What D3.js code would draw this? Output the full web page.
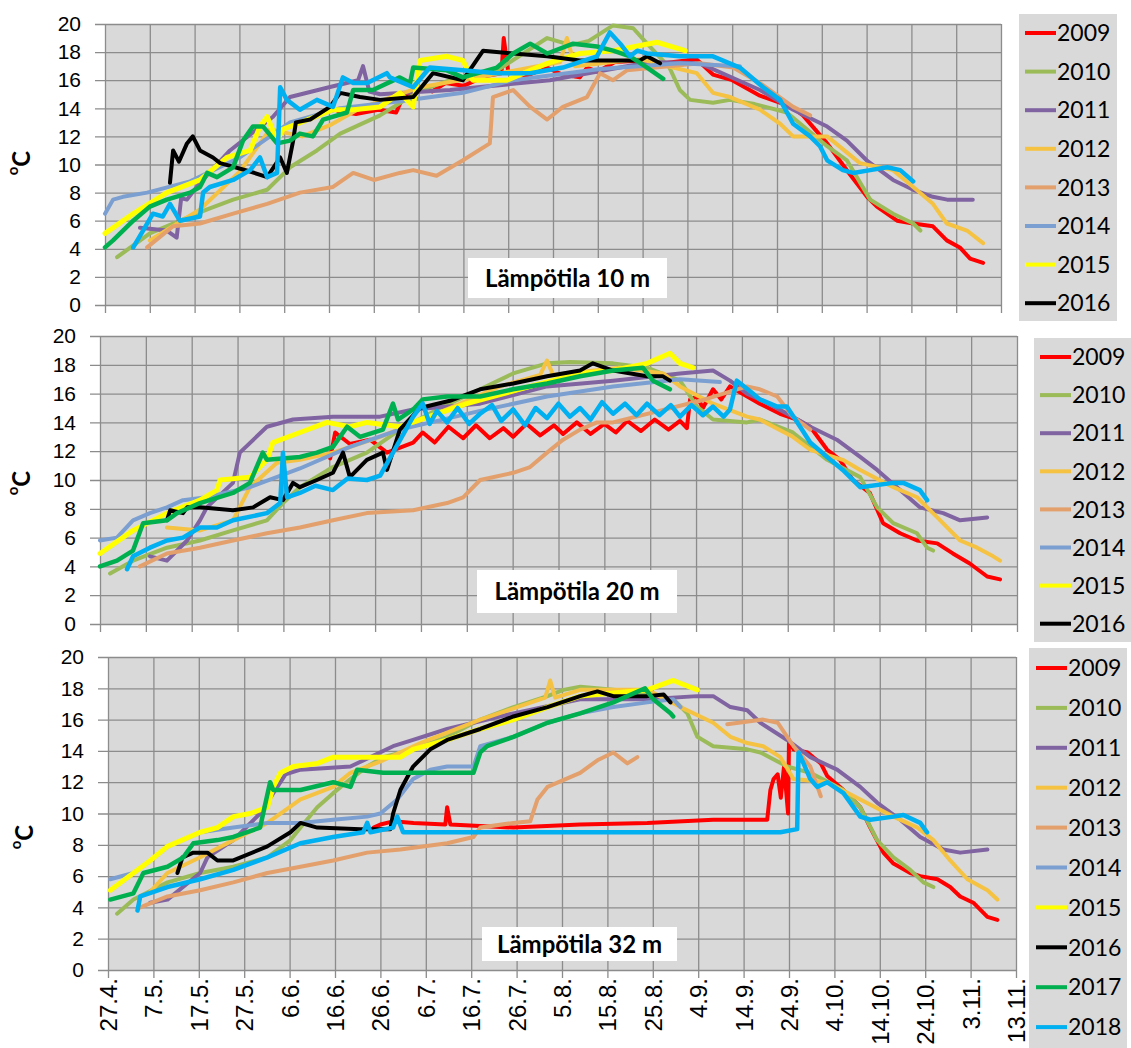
<!DOCTYPE html>
<html>
<head>
<meta charset="utf-8">
<script src="https://cdn.jsdelivr.net/npm/d3@7"></script>
<style>
body { margin: 0; background: #fff; }
svg { display: block; font-family: Lato, "Open Sans", sans-serif; }
</style>
</head>
<body>
<svg id="chart" width="1131" height="1048"></svg>
<script>
// years, colours and axis labels
var years = [2009, 2010, 2011, 2012, 2013, 2014, 2015, 2016, 2017, 2018];
var yearColors = ["#ff0000", "#9bbb59", "#8064a2", "#f5c242", "#e3a06c", "#7b9fd0", "#ffff00", "#000000", "#00b050", "#00b0f0"];
var dayTicks = [0, 10, 20, 30, 40, 50, 60, 70, 80, 90, 100, 110, 120, 130, 140, 150, 160, 170, 180, 190, 200];
var tickLabels = ["27.4.", "7.5.", "17.5.", "27.5.", "6.6.", "16.6.", "26.6.", "6.7.", "16.7.", "26.7.", "5.8.", "15.8.", "25.8.", "4.9.", "14.9.", "24.9.", "4.10.", "14.10.", "24.10.", "3.11.", "13.11."];
var tempTicks = [0, 2, 4, 6, 8, 10, 12, 14, 16, 18, 20];

// [days after 27.4., degrees C] -- 10 m
var m10_2009 = [[52,13.8],[56,13.6],[61,13.9],[65,13.7],[66.5,14.8],[70,15.5],[73,15.2],[76,15.8],[80,15.6],[85,16.3],[88.5,16.5],[89,19],[90,16.6],[94,16.3],[98.7,16.9],[102,16.4],[106,16.2],[107.6,16.9],[110,16.6],[113.8,17.3],[119.6,17.4],[124.7,17.2],[132,17.5],[135.7,16.4],[140,16.0],[146.2,14.9],[153.3,14.1],[155.8,13.5],[161.2,11.5],[165.8,9.5],[170.1,7.7],[172.3,7.0],[176.8,6.0],[180.4,5.8],[184.8,5.6],[187.9,4.6],[190.8,4.1],[193.1,3.3],[196,3.0]];
var m10_2010 = [[2.7,3.4],[10,5.1],[22.8,6.8],[28.6,7.5],[36.2,8.2],[41.3,9.8],[47.3,11.0],[52.5,12.2],[61.4,13.5],[70,15.2],[77,16],[88,16.8],[98.7,19],[104,18.5],[108,18.8],[113.4,19.9],[117.9,19.7],[121,18.6],[126,16.9],[128.3,15.3],[130.6,14.6],[135.7,14.4],[139.5,14.6],[145,14.3],[152.2,13.7],[161.2,11.3],[165.6,10.3],[170.8,7.5],[175.9,6.5],[180.4,5.8],[182,5.3]];
var m10_2011 = [[7.8,5.5],[13.8,5.3],[16,4.8],[17,7.6],[18.3,7.5],[21.2,8.7],[27.9,11.0],[37.5,13.4],[41.3,14.8],[50,15.5],[56.5,16.0],[57.6,17],[59,15.2],[61.4,15],[77,15.3],[99.3,16],[121.7,17.3],[132.8,17.2],[146.2,15.3],[153.6,13.9],[161.2,12.7],[165.6,11.7],[170,10.3],[175.9,8.9],[180.4,8.2],[184.8,7.7],[188,7.5],[193.7,7.5]];
var m10_2012 = [[10,4.6],[21.2,6.8],[30.1,9.5],[36.8,12.5],[44,12.0],[50.2,12.8],[56.9,14],[70.3,15.5],[88.2,16.5],[101.6,17.3],[103.1,19],[104.9,17],[119.4,17.5],[126.8,16.9],[132.1,16.5],[135.7,15.1],[139.5,14.8],[146.2,13.9],[150.7,12.9],[153.6,12],[161.2,12],[168.5,10.1],[175.9,9.6],[180.4,8.4],[184.8,7.2],[187.9,5.8],[192.4,5.3],[196,4.4]];
var m10_2013 = [[9.4,4.1],[15.2,5.6],[21.2,5.8],[28.6,6.5],[36.2,7.2],[43.5,8.0],[50.9,8.4],[55.4,9.4],[60,8.9],[65.8,9.4],[68.8,9.6],[74,9.2],[79.9,10.3],[85.9,11.5],[86.6,14.8],[91.1,15.3],[94.9,14.1],[98.7,13.2],[102.2,14.1],[107.6,14.8],[110.5,16.5],[113.4,16.0],[116.5,16.7],[132.8,17.2],[140.2,16.9],[146.2,15.8],[153.6,14.1],[157.4,13.5]];
var m10_2014 = [[0,6.5],[1.8,7.5],[4,7.7],[9.4,8],[19,8.8],[30.1,10.5],[41.3,13],[52.5,14],[65.8,14.5],[79.9,15.1],[91.1,16],[110.5,16.8],[128.3,17.2],[141.7,17]];
var m10_2015 = [[0,5.1],[6.3,6.5],[13.8,8.0],[21.2,8.9],[27.2,10.5],[32.4,11.0],[34.6,12.7],[36.2,13.4],[38.4,11.7],[39.7,12.5],[50.9,13.9],[55.4,13.9],[61.4,14.1],[65.8,15.1],[68.8,14.1],[70.3,17.4],[76.3,17.7],[79.9,17.4],[82.1,16],[89.7,16],[98.7,17.2],[106,17.9],[113.4,18.1],[123.2,18.7],[129.5,18.1]];
var m10_2016 = [[14.5,8.7],[15.2,11.0],[16.5,10.2],[18.3,11.5],[19.6,12.0],[21.2,11.0],[24.1,10.5],[25.7,10.1],[32.4,9.5],[36.2,9.1],[39.1,10.5],[40.6,9.4],[42,11.7],[42.6,13.0],[45.8,13.2],[50.2,14.1],[52.5,15.1],[56.9,14.8],[61.4,14.6],[68.8,14.8],[73.2,16.5],[79.9,16.0],[84.4,18.1],[91.1,17.9],[98.7,17.7],[106,17.4],[113.4,17.4],[119.4,17.4],[121,17.7],[123.9,17.2]];
var m10_2017 = [[0,4.1],[1.8,4.6],[6.3,6.0],[10,7.0],[13.8,7.5],[19,8.0],[21.2,8.4],[22.8,9.4],[25,9.1],[28.6,9.8],[30.8,11.7],[33,12.7],[35.3,12.7],[38.4,11.5],[41.3,11.7],[43.5,12.2],[46.4,12.0],[48.7,13.2],[54,13.7],[55.4,15.3],[59.8,15.3],[65.8,16.2],[68.1,15.8],[68.8,16.9],[76.3,16.7],[79.9,16.2],[87.5,16.9],[91.1,17.9],[94.9,18.6],[98.7,17.9],[104.5,18.6],[109.8,18.4],[113.4,18.1],[117.2,17.7],[121,16.9],[124.6,16.1]];
var m10_2018 = [[6.3,4.1],[8.5,5.3],[10.7,6.5],[12.9,6.3],[14.5,7.2],[16.7,6.0],[21.2,6.3],[21.9,8.0],[23.4,8.4],[28.6,8.9],[32.4,9.6],[34.6,10.5],[36.2,9.1],[38.4,9.4],[39.1,15.5],[40.6,14.6],[43.5,13.9],[47.3,14.6],[50.9,14.1],[53.1,16.2],[55.4,15.8],[58.5,15.8],[62.9,16.5],[63.6,16.2],[68.8,15.5],[72.5,16.9],[79.9,16.7],[87.5,16.5],[94.9,16.5],[102.2,16.9],[109.8,17.7],[112.7,19.4],[115,18.6],[117.2,17.7],[118.8,18.1],[121,17.9],[128.3,17.7],[135.7,17.7],[141.7,16.9],[146.9,15.5],[150.7,14.6],[153.6,12.9],[157.4,12.0],[159.6,11.3],[161.2,10.3],[164.7,9.6],[167,9.4],[170.8,9.6],[174.6,9.8],[177.5,9.6],[180.4,8.8]];

// 20 m
var m20_2009 = [[50.2,11.5],[51.3,13.3],[54.5,12.5],[58.9,12.8],[62.6,11.9],[68.3,12.6],[70.4,13.3],[73,12.6],[76,13.7],[79.2,12.9],[82,13.8],[85,12.9],[88,13.6],[90.1,13.0],[93,13.9],[96,13.1],[99,13.8],[101,13.2],[104,14.0],[107,13.2],[110,13.9],[112.5,13.3],[115,14.1],[118,13.4],[121,14.2],[124,13.5],[126.5,14.1],[128,13.6],[128.7,15.6],[130.2,15.8],[131.5,15.0],[133.7,16.3],[135.5,15.6],[137.4,16.5],[143.9,15.3],[148.3,14.6],[152,14.2],[154.9,13.7],[158.6,12.1],[161.4,11.4],[164.2,10],[167.9,9.1],[170.8,7.0],[174.5,6.3],[178.2,5.8],[182.6,5.6],[186,4.9],[189.7,4.2],[193.5,3.3],[196.3,3.1]];
var m20_2010 = [[2.2,3.5],[7.2,4.4],[14.6,5.3],[21.8,5.8],[29,6.5],[36.4,7.2],[39.9,8.4],[43.6,9.5],[50.8,10.9],[58.2,11.9],[65.4,13.5],[74.2,15],[82.9,16.3],[90.1,17.4],[97.5,18.1],[102.5,18.2],[111.9,18.1],[119.3,17.8],[126.5,16.9],[130.2,15.1],[133.7,14.2],[141.1,14.0],[143.9,14.2],[151.1,13.3],[158.6,11.4],[165.8,10.2],[169.5,8.1],[173,7.0],[178.2,6.3],[180.4,5.3],[181.7,5.1]];
var m20_2011 = [[10.9,4.7],[14.6,4.4],[19,5.8],[21.8,7.2],[23.3,8.1],[29,9.8],[30.5,11.9],[36.4,13.7],[42.1,14.2],[50.8,14.4],[61.1,14.4],[68.3,14.9],[82.9,15.3],[97.5,16.5],[111.9,16.9],[126.5,17.4],[133.7,17.6],[137.4,16.9],[141.1,16.0],[143.9,15.6],[151.1,14.4],[154.9,13.7],[160.7,12.8],[165.8,11.6],[169.5,10.7],[174.5,9.3],[178.8,8.1],[183.9,7.7],[187.6,7.2],[193.5,7.4]];
var m20_2012 = [[14.6,6.7],[21.8,6.5],[29,7.2],[32.7,9.5],[38.6,11.2],[43.6,11.4],[50.8,11.9],[61.1,13],[76.3,15],[87.2,16.5],[96,17.3],[97.5,18.3],[98.8,17.3],[113.4,17.8],[122.8,17.4],[126.5,16.5],[133.7,15.3],[141.1,14.4],[143.9,14.2],[151.1,13.0],[154.9,12.1],[162,11.4],[165.8,10.7],[173,9.5],[178.2,8.8],[182.6,7.4],[187.6,5.8],[191.3,5.3],[194.8,4.7],[196.3,4.4]];
var m20_2013 = [[8.7,4.0],[14.6,4.9],[21.8,5.3],[29,5.8],[36.4,6.3],[43.6,6.7],[50.8,7.2],[58.2,7.7],[68.3,7.9],[75.7,8.4],[79.2,8.8],[82.9,10.0],[90.1,10.5],[93.8,10.9],[97.5,11.9],[101,12.8],[104.7,13.5],[108.4,14.0],[111.9,14.0],[130.9,15.5],[141.1,16.5],[143.9,16.3],[147.7,15.8],[151.1,14.4],[154.9,13.5]];
var m20_2014 = [[0,5.8],[3.7,6.0],[7.2,7.2],[10.9,7.7],[14.6,8.1],[18.1,8.6],[23.3,8.8],[32.7,9.5],[43.6,10.8],[54.5,12.3],[65.4,13.5],[82.9,14.8],[97.5,15.8],[111.9,16.5],[126.5,17.0],[135.2,16.8]];
var m20_2015 = [[0,4.9],[7.2,6.5],[14.6,7.7],[21.8,8.6],[25.5,9.3],[26.2,10.0],[32.7,10.2],[36.4,11.4],[37.7,12.6],[43.6,13.3],[49.5,14.0],[54.5,13.7],[58.2,14.0],[65.4,13.7],[80,15.3],[93.8,16.5],[104.7,17.4],[111.9,17.6],[119.3,18.1],[124.3,18.8],[126.5,18.1],[129.3,17.8]];
var m20_2016 = [[14.6,7.2],[15.3,7.9],[18.1,7.7],[19,8.1],[21.8,8.1],[29,7.9],[33.4,8.1],[37.1,8.8],[39.9,8.6],[42.1,9.8],[43.6,9.5],[47.3,10.0],[50.8,10.5],[53,11.9],[54.5,10.2],[58.2,11.4],[61.7,11.9],[62.6,10.7],[65.4,13.5],[69.8,15.0],[76.3,15.5],[82.9,16.3],[90.1,16.7],[97.5,17.2],[104.7,17.6],[107.5,18.1],[111.9,17.6],[119.3,17.2],[122.8,17.2],[124.3,16.9]];
var m20_2017 = [[0,4.0],[3.7,4.4],[7.2,5.1],[9.4,7.0],[14.6,7.2],[16.8,7.7],[21.8,8.4],[29,9.1],[32.7,9.8],[35.5,11.9],[36.4,11.4],[43.6,11.6],[47.3,11.9],[50.8,12.3],[53.9,13.7],[56.7,13.0],[61.7,13.5],[63.9,15.3],[65,14.2],[68.3,14.9],[70.4,15.6],[75.7,15.8],[82.9,15.8],[90.1,16.3],[97.5,16.7],[104.7,17.2],[111.9,17.6],[118.4,17.8],[120.6,16.9],[124.3,16.3]];
var m20_2018 = [[5.9,3.8],[7.2,4.7],[10.9,5.3],[14.6,5.8],[18.1,6.0],[21.8,6.7],[25.5,6.7],[29,7.2],[36.4,7.7],[39.3,8.4],[39.9,11.9],[40.8,8.8],[43.6,9.1],[47,9.6],[50.8,9.3],[54,10.1],[58.2,10.0],[61.1,10.3],[64.6,12.3],[68.3,14.4],[70.4,15.3],[71.9,13.9],[73.5,14.8],[75.7,14.0],[78,15.0],[80.5,13.9],[82.9,14.6],[85.5,15.2],[87.5,14.1],[90.1,14.9],[92.7,13.8],[95,15.0],[97.5,14.3],[100,15.3],[102.5,14.4],[104.7,15.0],[107,14.2],[109.5,15.4],[111.9,14.6],[114.5,15.3],[117,14.5],[119.3,15.3],[122,14.5],[124.5,15.2],[126.5,14.4],[129,15.2],[131.5,14.5],[133.7,15.1],[136,14.4],[137.4,14.9],[138.9,16.9],[142.4,16.0],[143.9,15.6],[147.7,15.1],[149.8,15.1],[152.7,13.7],[154.9,12.6],[158.6,11.6],[162,10.7],[165.8,9.5],[173,9.8],[175.2,9.8],[178.8,9.3],[180.4,8.6]];

// 32 m
var m32_2009 = [[58.5,9.1],[60,9.3],[62.8,9.5],[67.3,9.4],[74.3,9.3],[74.7,10.4],[75.4,9.3],[89.3,9.1],[104,9.3],[118.8,9.4],[133.3,9.6],[143.7,9.6],[145.2,9.6],[145.9,11.5],[146.6,12.2],[147.5,12.5],[148.2,11.0],[148.9,13.0],[149.8,10.0],[150,14.7],[151,14.1],[154.1,13.9],[157,13.2],[158.4,12.4],[162,11.5],[165.7,10.4],[167.9,9.1],[170.8,7.5],[173,6.8],[176.7,6.2],[178.9,6.0],[182.7,5.8],[185.5,5.3],[187.7,4.7],[190.6,4.3],[193.7,3.4],[195.9,3.2]];
var m32_2010 = [[2,3.6],[5.6,4.5],[13.1,5.6],[20.3,6.2],[27.6,6.6],[35.1,7.2],[40.2,8.3],[42.4,9.1],[46.1,10.4],[49.6,11.3],[53.4,12.2],[57.1,13.0],[60.6,13.6],[67.2,14.1],[74.7,14.9],[82,16.0],[89.3,16.8],[96.8,17.5],[100.3,17.9],[104,18.1],[111.3,17.9],[118.8,17.7],[124.5,17.3],[127.6,16.4],[129.8,14.9],[133.3,14.3],[140.8,14.1],[143.7,13.9],[149.6,13.0],[154.7,12.6],[162,11.5],[165.7,10.4],[169.4,8.3],[173,7.2],[176.7,6.4],[179.6,5.6],[181.8,5.3]];
var m32_2011 = [[9.3,4.3],[13.1,4.5],[20.3,6.2],[21.9,7.2],[27.6,8.3],[33.5,10],[39.1,12.5],[42.4,12.8],[53.4,13.0],[62.8,14.3],[67.2,14.7],[74.7,15.4],[89.3,16.4],[104,17.3],[118.8,17.3],[129.8,17.5],[133.3,17.5],[137.1,16.8],[140.8,16.6],[143.7,15.8],[149.6,14.7],[154.7,13.6],[160.6,12.8],[165.7,11.7],[169.4,10.7],[174.5,9.6],[178.9,8.5],[184,7.7],[187.7,7.5],[193.7,7.7]];
var m32_2012 = [[9.3,5.0],[13.1,6.2],[20.3,7.2],[27.6,8.3],[35.1,9.4],[42.4,10.9],[49.6,11.7],[53.4,12.6],[60.6,13.4],[68.8,14.5],[82,16.0],[96.3,17.4],[97.4,18.5],[98.5,17.4],[104,17.9],[118.8,17.9],[126.1,16.8],[133.3,15.8],[137.1,14.9],[140.8,14.5],[144.3,14.3],[148.1,13.6],[151,12.2],[158.4,12.0],[165.7,10.9],[173,9.8],[178.3,9.1],[181.8,8.3],[185.5,7.0],[189.3,5.8],[193.7,5.1],[195.9,4.5]];
var m32_2013 = [[7.1,4.0],[13.1,4.7],[20.3,5.1],[27.6,5.6],[35.1,6.2],[42.4,6.6],[49.6,7.0],[57.1,7.5],[64.4,7.7],[74.7,8.1],[80.5,8.5],[82,9.1],[89.3,9.4],[93,9.5],[94.6,10.9],[96.8,11.7],[104,12.6],[107.8,13.4],[111.3,13.9],[114.4,13.2],[116.6,13.6],null,[136.4,15.7],[144.3,16.0],[147.5,15.8],[149.6,14.9],[151,14.3],[154.7,13.0],[157,11.1]];
var m32_2014 = [[0.5,5.8],[5.6,6.2],[9.3,7.0],[13.1,7.9],[20.3,8.8],[27.6,9.1],[35.1,9.4],[42.4,9.4],[49.6,9.6],[57.1,9.8],[60,10.0],[63.7,10.9],[67.2,12.2],[71,12.8],[74.7,13.0],[80.5,13.0],[82,14.3],[89.3,14.9],[96.8,15.8],[104,16.4],[111.3,16.8],[118.8,17.1],[124.5,17.3],[126.1,16.8]];
var m32_2015 = [[0.5,5.1],[5.6,6.2],[9.3,7.0],[13.1,7.9],[20.3,8.8],[24.1,9.1],[27.6,9.8],[31.3,10.0],[35.1,10.4],[36.4,11.7],[38,12.6],[40.8,13.0],[46.1,13.2],[49.6,13.6],[64.4,13.6],[67.2,14.1],[74.7,14.7],[82,15.4],[89.3,16.0],[96.8,16.8],[104,17.5],[111.3,17.7],[118.8,17.9],[124.5,18.5],[129.8,17.9]];
var m32_2016 = [[15.3,6.2],[16.4,7.2],[18.8,7.5],[21.9,7.5],[24.1,7.0],[27.6,7.0],[35.1,7.9],[40.2,8.8],[42.4,9.4],[46.1,9.1],[55.6,9.0],[62.2,9.0],[62.8,10.0],[64.4,11.5],[67.2,13.0],[71,14.1],[74.7,14.7],[82,15.4],[89.3,16.2],[96.8,16.8],[104,17.5],[107.8,17.8],[111.3,17.5],[118.8,17.5],[122.4,17.6],[123.9,17.1]];
var m32_2017 = [[0.5,4.5],[5.6,4.9],[7.8,6.2],[13.1,6.6],[16.6,7.2],[18.8,8.1],[24.1,8.3],[27.6,8.5],[33.5,9.1],[35.7,12.0],[36.4,11.5],[42.4,11.5],[49.6,12.0],[53.4,11.7],[54.9,12.8],[60.6,12.6],[80.5,12.6],[82,13.9],[83.5,14.3],[89.3,14.9],[96.8,15.8],[104,16.4],[111.3,17.1],[118.3,18.0],[120.1,17.3],[123.9,16.4],[124.5,16.2]];
var m32_2018 = [[6.5,3.8],[7.1,4.7],[13.1,5.3],[20.3,5.8],[27.6,6.4],[35.1,7.2],[42.4,8.1],[49.6,8.5],[56.2,8.8],[57.1,9.4],[57.8,8.8],[62.8,9.1],[63.7,9.8],[65,8.8],[104,8.8],[148.1,8.8],[151.8,9.0],[152.1,13.9],[153.2,13.2],[154.7,12.2],[156.2,11.7],[158.4,12.0],[162,11.3],[165.7,9.8],[167.9,9.6],[173,9.8],[175.2,9.9],[178.9,9.4],[180.4,8.8]];

// one panel per depth
var panels = [
    {label: "Lämpötila 10 m", legendCount: 8, series: [m10_2009, m10_2010, m10_2011, m10_2012, m10_2013, m10_2014, m10_2015, m10_2016, m10_2017, m10_2018]},
    {label: "Lämpötila 20 m", legendCount: 8, series: [m20_2009, m20_2010, m20_2011, m20_2012, m20_2013, m20_2014, m20_2015, m20_2016, m20_2017, m20_2018]},
    {label: "Lämpötila 32 m", legendCount: 10, series: [m32_2009, m32_2010, m32_2011, m32_2012, m32_2013, m32_2014, m32_2015, m32_2016, m32_2017, m32_2018]}
];

// panel placement on the page
var layout = [
    {left: 105, right: 1001, top: 24, bottom: 305, leg: {x: 1019, y: 14, w: 98, h: 307, lx: 1025, y0: 33, dy: 38.6}, lab: {x: 468, y: 258, w: 199, h: 40}, unit: {x: 25, y: 163}, xLabels: false},
    {left: 100, right: 1017, top: 336, bottom: 624, leg: {x: 1034, y: 338, w: 97, h: 304, lx: 1040, y0: 357, dy: 38.1}, lab: {x: 477, y: 570, w: 200, h: 43}, unit: {x: 25, y: 483}, xLabels: false},
    {left: 108, right: 1016, top: 657, bottom: 970, leg: {x: 1029, y: 648, w: 98, h: 410, lx: 1036, y0: 668, dy: 39.9}, lab: {x: 482, y: 927, w: 195, h: 34}, unit: {x: 28, y: 837}, xLabels: true}
];

var lineWidths = [4, 4, 4, 4, 4, 4, 5, 4, 4.5, 4.5];
var gridColor = "#8c8c8c";

var svg = d3.select("#chart");

panels.forEach(function(panel, p) {
    var L = layout[p];
    var g = svg.append("g");

    var x = d3.scaleLinear().domain([0, 200]).range([L.left, L.right]);
    var y = d3.scaleLinear().domain([0, 20]).range([L.bottom, L.top]);

    //plot background
    g.append("rect")
        .attr("x", L.left).attr("y", L.top)
        .attr("width", L.right - L.left).attr("height", L.bottom - L.top)
        .attr("fill", "#d9d9d9");

    //horizontal grid + temperature labels
    var yAxis = g.append("g")
        .attr("transform", "translate(" + (L.left - 10) + ",0)")
        .call(d3.axisLeft(y).tickValues(tempTicks).tickSize(-(L.right - L.left + 10)).tickPadding(14));
    yAxis.select(".domain").remove();
    yAxis.selectAll(".tick line").attr("stroke", gridColor).attr("stroke-width", 1.3);
    yAxis.selectAll(".tick text").attr("fill", "#000").style("font-size", "21px");

    //vertical grid + date labels
    var xAxis = g.append("g")
        .attr("transform", "translate(0," + (L.bottom + 8) + ")")
        .call(d3.axisBottom(x).tickValues(dayTicks).tickSize(-(L.bottom - L.top + 8))
            .tickFormat(function(d, i) { return L.xLabels ? tickLabels[i] : ""; }));
    xAxis.select(".domain").remove();
    xAxis.selectAll(".tick line").attr("stroke", gridColor).attr("stroke-width", 1.3);
    xAxis.selectAll(".tick text")
        .attr("fill", "#000")
        .attr("transform", "rotate(-90)")
        .attr("text-anchor", "end")
        .attr("x", 0).attr("y", 0).attr("dy", "0.35em")
        .style("font-size", "24px");

    //series lines, 2009 at the bottom
    var line = d3.line()
        .defined(function(d) { return d !== null; })
        .x(function(d) { return x(d[0]); })
        .y(function(d) { return y(d[1]); });

    panel.series.forEach(function(data, i) {
        g.append("path")
            .datum(data)
            .attr("d", line)
            .attr("fill", "none")
            .attr("stroke", yearColors[i])
            .attr("stroke-width", lineWidths[i])
            .attr("stroke-linejoin", "round")
            .attr("stroke-linecap", "round");
    });

    //depth label
    g.append("rect")
        .attr("x", L.lab.x).attr("y", L.lab.y)
        .attr("width", L.lab.w).attr("height", L.lab.h)
        .attr("fill", "#fff");
    g.append("text")
        .attr("x", L.lab.x + L.lab.w / 2)
        .attr("y", L.lab.y + L.lab.h / 2)
        .attr("dy", "0.36em")
        .attr("text-anchor", "middle")
        .style("font-size", "24px")
        .style("font-weight", "bold")
        .text(panel.label);

    //unit title
    var unit = g.append("text")
        .attr("transform", "translate(" + L.unit.x + "," + L.unit.y + ") rotate(-90)")
        .attr("text-anchor", "middle")
        .attr("dy", "0.35em")
        .style("font-weight", "bold")
        .style("font-size", "24px");
    unit.append("tspan").style("font-size", "15px").attr("dy", "-0.5em").text("o");
    unit.append("tspan").attr("dy", "0.5em").text("C");

    //legend
    var leg = g.append("g");
    leg.append("rect")
        .attr("x", L.leg.x).attr("y", L.leg.y)
        .attr("width", L.leg.w).attr("height", L.leg.h)
        .attr("fill", "#d9d9d9");
    var items = leg.selectAll(".item")
        .data(years.slice(0, panel.legendCount))
        .enter().append("g")
        .attr("transform", function(d, i) { return "translate(0," + (L.leg.y0 + i * L.leg.dy) + ")"; });
    items.append("line")
        .attr("x1", L.leg.lx).attr("x2", L.leg.lx + 31)
        .attr("stroke", function(d, i) { return yearColors[i]; })
        .attr("stroke-width", 4);
    items.append("text")
        .attr("x", L.leg.lx + 32)
        .attr("dy", "0.36em")
        .style("font-size", "23px")
        .text(function(d) { return d; });
});
</script>
</body>
</html>
